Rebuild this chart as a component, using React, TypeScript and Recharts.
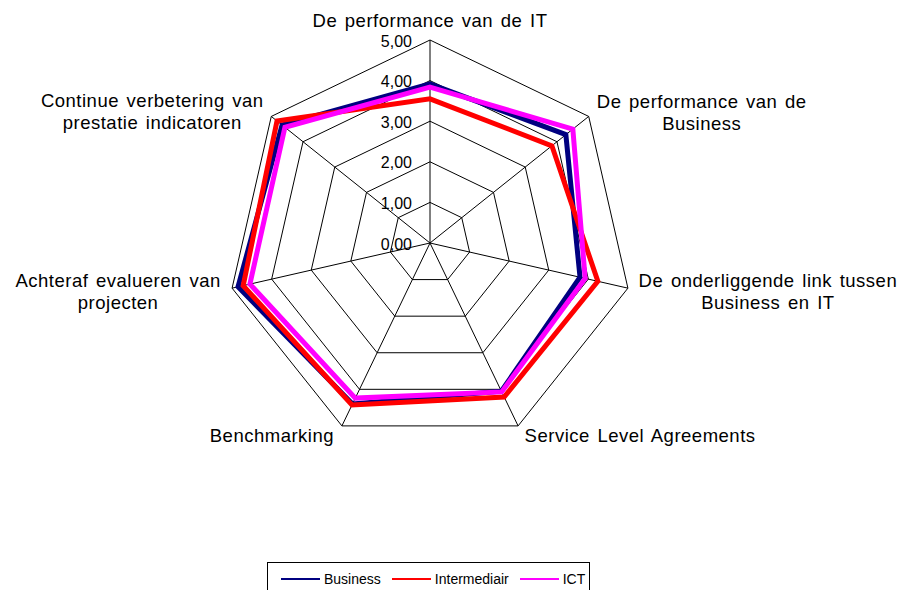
import React from 'react';
import { RadarChart, Radar, PolarGrid, PolarAngleAxis, PolarRadiusAxis, Legend } from 'recharts';

// Axis labels (one entry per spoke, lines as they wrap in the original)
const categories = [
  'De performance van de IT',
  'De performance van de Business',
  'De onderliggende link tussen Business en IT',
  'Service Level Agreements',
  'Benchmarking',
  'Achteraf evalueren van projecten',
  'Continue verbetering van prestatie indicatoren',
];
const labelLines = [
  ['De performance van de IT'],
  ['De performance van de', 'Business'],
  ['De onderliggende link tussen', 'Business en IT'],
  ['Service Level Agreements'],
  ['Benchmarking'],
  ['Achteraf evalueren van', 'projecten'],
  ['Continue verbetering van', 'prestatie indicatoren'],
];

const business = [3.92, 4.28, 3.79, 4.05, 4.4, 4.85, 4.66];
const intermediair = [3.55, 3.84, 4.24, 4.21, 4.43, 4.72, 4.82];
const ict = [3.84, 4.5, 3.92, 4.07, 4.24, 4.55, 4.57];

const radiusTicks = [0, 1, 2, 3, 4, 5];

const seriesNames = ['Business', 'Intermediair', 'ICT'];
const seriesColors = ['#000080', '#FF0000', '#FF00FF'];

const data = categories.map((name, i) => ({
  name,
  Business: business[i],
  Intermediair: intermediair[i],
  ICT: ict[i],
}));

const CX = 430;
const CY = 243;
const R = 203;
const FONT = '"Liberation Sans", Arial, sans-serif';

// label block placement next to each vertex (center x offset, first baseline offset)
const labelDx = [0, 113, 140, 122, -70, -114, -119];
const labelDy = [-13, -8, -1, 16, 16, -1, -9];

const AngleTick = (props: any) => {
  const i = props.index;
  const a = ((90 - (i * 360) / categories.length) * Math.PI) / 180;
  const vx = CX + R * Math.cos(a);
  const vy = CY - R * Math.sin(a);
  const lines = labelLines[i];
  return (
    <text
      x={vx + labelDx[i]}
      y={vy + labelDy[i]}
      textAnchor="middle"
      fontFamily={FONT}
      fontSize={18.5}
      letterSpacing={0.5}
      wordSpacing={2}
      fill="#000"
    >
      {lines.map((l, k) => (
        <tspan key={k} x={vx + labelDx[i]} dy={k === 0 ? 0 : 22}>
          {l}
        </tspan>
      ))}
    </text>
  );
};

const RadiusTick = (props: any) => {
  const { x, y, payload } = props;
  return (
    <text x={x - 18} y={y + 1} textAnchor="end" dominantBaseline="central" fontFamily={FONT} fontSize={16} fill="#000">
      {Number(payload.value).toFixed(2).replace('.', ',')}
    </text>
  );
};

const LegendBox = () => (
  <div
    style={{
      border: '1px solid #000',
      width: 323,
      height: 40,
      boxSizing: 'border-box',
      display: 'flex',
      alignItems: 'flex-start',
      paddingTop: 8,
      paddingLeft: 13,
      fontFamily: FONT,
      fontSize: 14,
      color: '#000',
      background: '#fff',
      whiteSpace: 'nowrap',
    }}
  >
    {seriesNames.map((n, k) => (
      <div key={n} style={{ display: 'flex', alignItems: 'center', marginRight: 11 }}>
        <div style={{ width: 39, height: 2, background: seriesColors[k], marginRight: 4 }} />
        <span>{n}</span>
      </div>
    ))}
  </div>
);

export default function App() {
  return (
    <div style={{ position: 'absolute', left: 0, top: 0, width: 903, height: 590, overflow: 'hidden', background: '#fff' }}>
      <RadarChart width={903} height={630} data={data} cx={CX} cy={CY} outerRadius={R} margin={{ top: 0, right: 0, bottom: 0, left: 0 }}>
        <PolarGrid gridType="polygon" stroke="#000" strokeWidth={1} strokeOpacity={1} />
        <PolarAngleAxis dataKey="name" tick={<AngleTick />} tickLine={false} axisLine={false} />
        <PolarRadiusAxis
          angle={90}
          domain={[0, 5]}
          ticks={radiusTicks}
          tickCount={6}
          tick={<RadiusTick />}
          axisLine={false}
          tickLine={false}
        />
        {seriesNames.map((n, k) => (
          <Radar
            key={n}
            name={n}
            dataKey={n}
            stroke={seriesColors[k]}
            strokeWidth={5}
            fill="none"
            fillOpacity={0}
            dot={false}
            isAnimationActive={false}
          />
        ))}
        <Legend content={<LegendBox />} wrapperStyle={{ position: 'absolute', left: 267, top: 562, width: 323 }} />
      </RadarChart>
    </div>
  );
}
